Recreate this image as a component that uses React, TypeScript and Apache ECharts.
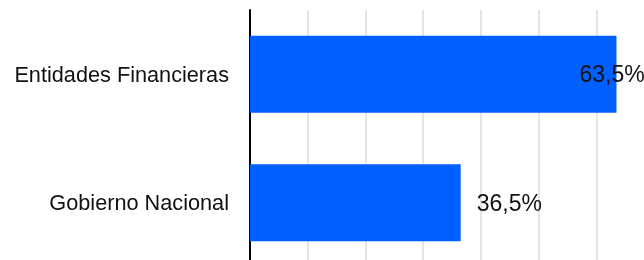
import React, { useEffect, useRef } from "react";
import * as echarts from "echarts";

const categories = ["Entidades Financieras", "Gobierno Nacional"];
const values = [63.5, 36.5];
const labelOffsets = [[-53, 0], [0, 0]];

const FONT = "'Liberation Sans', Arial, sans-serif";

export default function App() {
  const ref = useRef<HTMLDivElement>(null);
  useEffect(() => {
    if (!ref.current) return;
    const chart = echarts.init(ref.current, undefined, { renderer: "svg" });
    chart.setOption({
      animation: false,
      grid: {
        left: 250,
        top: 10,
        width: 404,
        height: 257,
        containLabel: false,
        outerBoundsMode: "none",
      },
      xAxis: {
        type: "value",
        min: 0,
        max: 70,
        interval: 10,
        axisLabel: { show: false },
        axisLine: { show: false },
        axisTick: { show: false },
        splitLine: { show: true, lineStyle: { color: "#dcdcdc", width: 1.5 } },
      },
      yAxis: {
        type: "category",
        data: categories,
        inverse: true,
        axisLine: { show: true, lineStyle: { color: "#000", width: 2 } },
        axisTick: { show: false },
        axisLabel: {
          fontFamily: FONT,
          fontSize: 21.7,
          color: "#111",
          margin: 21,
        },
      },
      series: [
        {
          type: "bar",
          barWidth: "60%",
          itemStyle: { color: "#005FFF" },
          z: 1,
          data: values.map((v, i) => ({
            value: v,
            label: { offset: labelOffsets[i] },
          })),
          label: {
            show: true,
            position: "right",
            distance: 16,
            fontFamily: FONT,
            fontSize: 23,
            color: "#111",
            formatter: (p: any) => p.value.toFixed(1).replace(".", ",") + "%",
          },
        },
      ],
    });
    return () => chart.dispose();
  }, []);
  return (
    <div
      ref={ref}
      style={{ position: "fixed", left: 0, top: 0, width: 644, height: 260 }}
    />
  );
}
